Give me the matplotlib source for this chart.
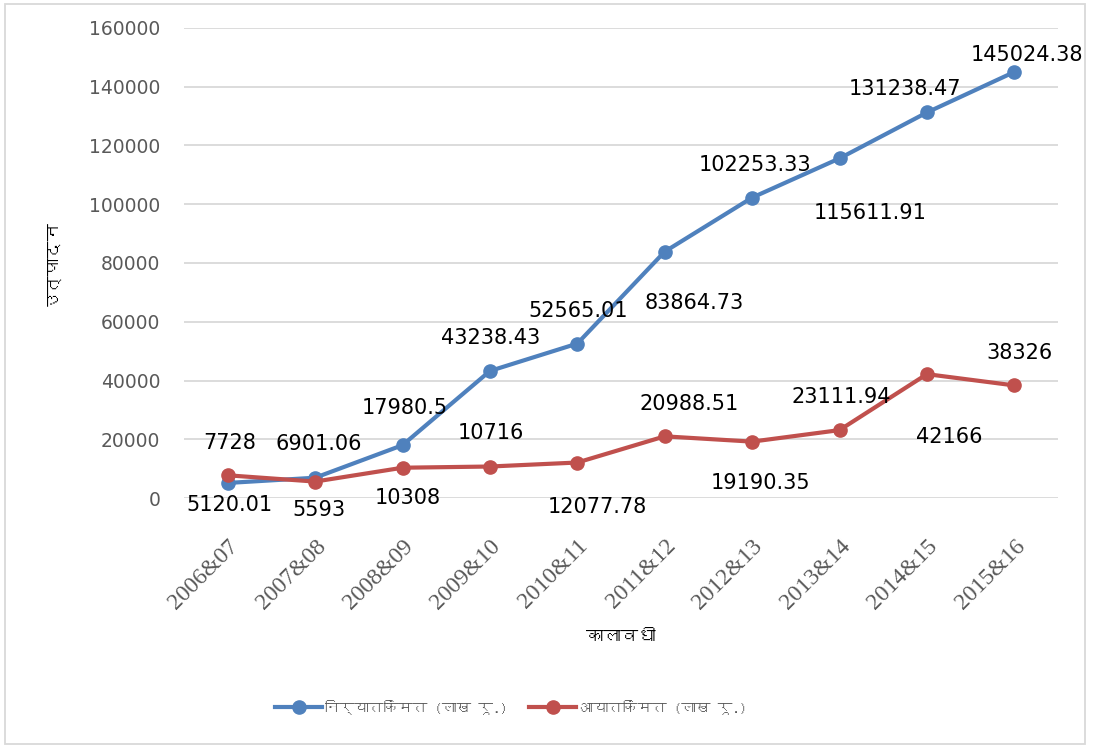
import matplotlib
matplotlib.use("Agg")
import matplotlib.pyplot as plt
from matplotlib import font_manager, ft2font
from matplotlib.patches import Rectangle

# data
years = ["2006&07", "2007&08", "2008&09", "2009&10", "2010&11",
         "2011&12", "2012&13", "2013&14", "2014&15", "2015&16"]
export_value = [5120.01, 6901.06, 17980.5, 43238.43, 52565.01,
                83864.73, 102253.33, 115611.91, 131238.47, 145024.38]
import_value = [7728, 5593, 10308, 10716, 12077.78,
                20988.51, 19190.35, 23111.94, 42166, 38326]
export_name = "निर्यातकिंमत (लाख रू.)"
import_name = "आयातकिंमत (लाख रू.)"
x_title = "कालावधी"
y_title = "उत्पादन"

# label offsets in pixels (dx, dy) relative to each point
export_offsets = [(2, -22), (4, 34), (2, 37), (1, 33), (1, 33),
                  (30, -51), (3, 33), (31, -55), (-22, 23), (13, 17)]
import_offsets = [(2, 32), (4, -28), (5, -30), (1, 34), (20, -44),
                  (24, 32), (8, -41), (2, 33), (22, -63), (5, 32)]

def fmt(v):
    return f"{v:.2f}".rstrip("0").rstrip(".")

# look for any installed font that has Devanagari glyphs
deva_fonts = []
for f in font_manager.fontManager.ttflist:
    try:
        if 0x0915 in ft2font.FT2Font(f.fname).get_charmap():
            if f.name not in deva_fonts:
                deva_fonts.append(f.name)
    except Exception:
        pass
deva_family = deva_fonts + ["DejaVu Sans"]

blue = "#4F81BD"
red = "#C0504D"
gray = "#595959"

fig = plt.figure(figsize=(10.94, 7.47), dpi=100)
ax = fig.add_axes([184/1094, 1-498/747, 874/1094, 470/747])

xs = list(range(len(years)))
ax.plot(xs, export_value, color=blue, lw=3, marker="o", ms=9.5, label=export_name)
ax.plot(xs, import_value, color=red, lw=3, marker="o", ms=9.5, label=import_name)

for i in xs:
    ax.annotate(fmt(export_value[i]), (i, export_value[i]), xytext=export_offsets[i],
                textcoords="offset pixels", ha="center", va="center", fontsize=15, color="black")
    ax.annotate(fmt(import_value[i]), (i, import_value[i]), xytext=import_offsets[i],
                textcoords="offset pixels", ha="center", va="center", fontsize=15, color="black")

ax.set_xlim(-0.5, 9.5)
ax.set_ylim(0, 160000)
ax.tick_params(axis="y", length=0, labelsize=13.5, labelcolor=gray, pad=17)
ax.tick_params(axis="x", length=0, pad=27)
ax.set_yticks(range(0, 160001, 20000))
ax.set_xticks(xs)
ax.set_xticklabels(years)
for t in ax.get_xticklabels():
    t.set_rotation(45)
    t.set_ha("right")
    t.set_rotation_mode("anchor")
    t.set_fontfamily("Liberation Serif")
    t.set_fontsize(17)
    t.set_color(gray)
ax.grid(axis="y", color="#D9D9D9", lw=1.3)
ax.set_axisbelow(True)
for s in ax.spines.values():
    s.set_visible(False)

fig.text(52/1094, 1-263/747, y_title, rotation=90, ha="center", va="center",
         fontsize=12.5, fontweight="bold", family=deva_family)
fig.text(621/1094, 1-637/747, x_title, ha="center", va="center",
         fontsize=12.5, fontweight="bold", family=deva_family)

leg = fig.legend(loc="center", bbox_to_anchor=(511/1094, 1-707/747), ncol=2, frameon=False,
                 prop={"family": deva_family, "size": 10.5}, handlelength=3.2,
                 columnspacing=1.5, handletextpad=0.2)
for t in leg.get_texts():
    t.set_color(gray)

fig.patches.append(Rectangle((5/1094, 3/747), 1080/1094, 740/747, transform=fig.transFigure,
                             fill=False, edgecolor="#D9D9D9", lw=1.3))

fig.savefig("out.png", dpi=100)
